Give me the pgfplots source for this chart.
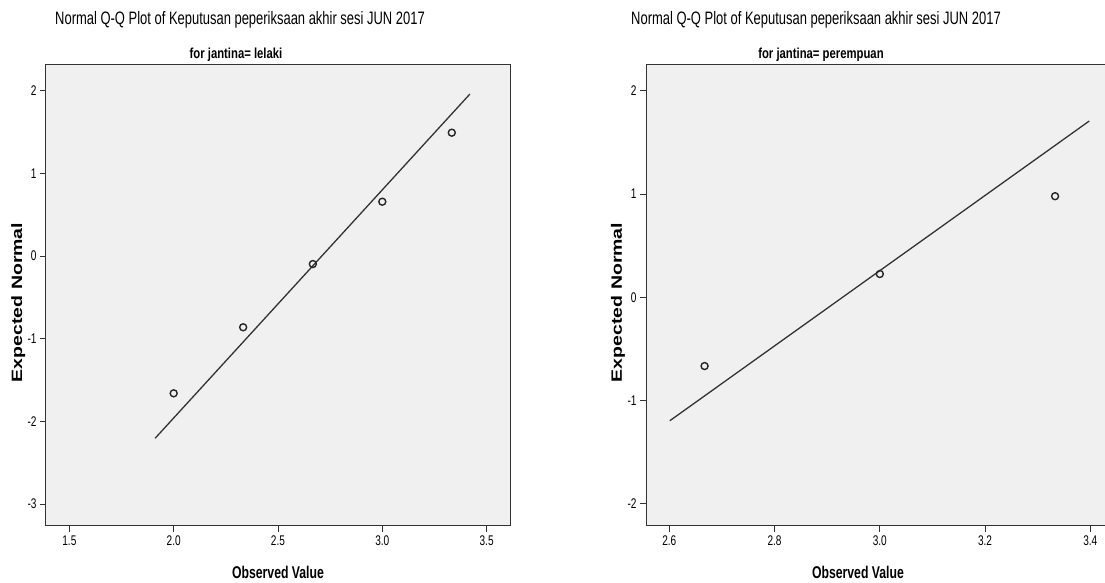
\documentclass[border=0pt]{standalone}
\usepackage{fontspec}
\setmainfont{Liberation Sans}
\newfontfamily\condfont[FakeStretch=0.72]{Liberation Sans}
\newfontfamily\subfont[FakeStretch=0.78]{Liberation Sans}
\newfontfamily\wideb[FakeStretch=1.3]{Liberation Sans}
\usepackage{pgfplots}
\pgfplotsset{compat=1.18}
\definecolor{bggray}{HTML}{F0F0F0}
\definecolor{axgray}{HTML}{333333}
\pgfplotsset{qq/.style={
  scale only axis,
  axis background/.style={fill=bggray},
  axis line style={draw=axgray, line width=1pt},
  tick align=outside,
  major tick length=6pt,
  xtick pos=bottom, ytick pos=left,
  tick style={draw=axgray, line width=1pt},
  ticklabel style={font=\condfont\fontsize{14}{16}\selectfont},
  /pgf/number format/assume math mode=true,
  xticklabel style={/pgf/number format/fixed,/pgf/number format/fixed zerofill,/pgf/number format/precision=1},
  ylabel={Expected Normal},
  ylabel style={font=\wideb\bfseries\fontsize{15}{17}\selectfont, anchor=center},
  xlabel={Observed Value},
  xlabel style={font=\condfont\bfseries\fontsize{17}{19}\selectfont, anchor=center},
}}
\begin{document}
\begin{tikzpicture}[x=1pt,y=1pt]
\path[use as bounding box] (0,0) rectangle (1105,583);
% left panel
\begin{axis}[qq, at={(46pt,57pt)}, anchor=south west,
  width=464pt, height=461pt,
  xmin=1.388, xmax=3.612, ymin=-3.266, ymax=2.311,
  xtick={1.5,2.0,2.5,3.0,3.5}, ytick={-3,-2,-1,0,1,2},
  xlabel style={at={(axis description cs:0.5,-0.101)}},
  ylabel style={at={(axis description cs:-0.060,0.485)}},
]
\addplot[no marks, axgray, line width=1.3pt] coordinates {(1.911,-2.205) (3.42,1.96)};
\addplot[only marks, mark=o, mark size=3.5pt, mark options={line width=1.4pt, draw=black!85}] coordinates {
 (2.0,-1.661) (2.333,-0.862) (2.667,-0.097) (3.0,0.657) (3.333,1.492)};
\end{axis}
% right panel
\begin{axis}[qq, at={(646pt,57pt)}, anchor=south west,
  width=470pt, height=461pt,
  xmin=2.5557, xmax=3.4488, ymin=-2.213, ymax=2.249,
  xtick={2.6,2.8,3.0,3.2,3.4}, ytick={-2,-1,0,1,2},
  xlabel style={at={(axis description cs:0.451,-0.101)}},
  ylabel style={at={(axis description cs:-0.0596,0.485)}},
]
\addplot[no marks, axgray, line width=1.3pt] coordinates {(2.601,-1.194) (3.398,1.707)};
\addplot[only marks, mark=o, mark size=3.5pt, mark options={line width=1.4pt, draw=black!85}] coordinates {
 (2.667,-0.665) (3.0,0.226) (3.333,0.979)};
\end{axis}
% titles
\node[anchor=base, inner sep=0pt, font=\condfont\fontsize{18}{20}\selectfont] at (240,558) {Normal Q-Q Plot of Keputusan peperiksaan akhir sesi JUN 2017};
\node[anchor=base, inner sep=0pt, font=\subfont\bfseries\fontsize{14.5}{16}\selectfont] at (236,524.7) {for jantina= lelaki};
\node[anchor=base, inner sep=0pt, font=\condfont\fontsize{18}{20}\selectfont] at (816,558) {Normal Q-Q Plot of Keputusan peperiksaan akhir sesi JUN 2017};
\node[anchor=base, inner sep=0pt, font=\subfont\bfseries\fontsize{14.5}{16}\selectfont] at (821,524.7) {for jantina= perempuan};
\end{tikzpicture}
\end{document}
